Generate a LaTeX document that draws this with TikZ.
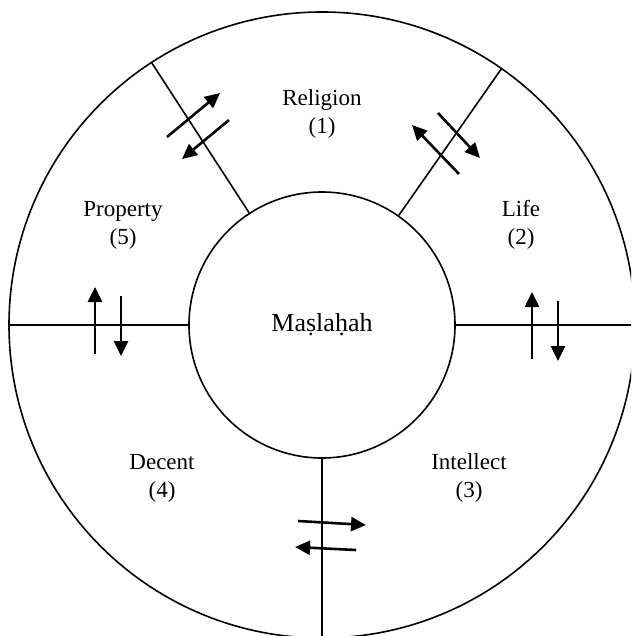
\documentclass[tikz,border=0pt]{standalone}
\usepackage{fontspec}
\setmainfont{Liberation Serif}
\usetikzlibrary{arrows.meta, positioning}
\tikzset{
  ring/.style  = {circle, draw=black, line width=1.6pt, inner sep=0pt},
  core/.style  = {circle, draw=black, line width=1.6pt, inner sep=0pt,
                  minimum size=266pt, font=\fontsize{26}{31}\selectfont},
  lbl/.style   = {align=center, font=\fontsize{23}{28}\selectfont},
  sep/.style   = {line width=1.6pt, color=black},
  flow/.style  = {-{Triangle[length=15pt, width=14pt]}, line width=2.6pt, color=black},
}
\begin{document}
\begin{tikzpicture}[x=1pt, y=-1pt]

  \useasboundingbox (0,0) rectangle (631,636);
  \clip (0,0) rectangle (631,636);

  \node[ring, minimum size=626pt] (outer) at (322,325) {};
  \node[core] (mas) at (322,325) {Maṣlaḥah};

  % spokes between the five domains
  \draw[sep] (mas.0)    -- (outer.0);
  \draw[sep] (mas.55.5) -- (outer.55.5);
  \draw[sep] (mas.123)  -- (outer.123);
  \draw[sep] (mas.180)  -- (outer.180);
  \draw[sep] (mas.270)  -- (outer.270);

  % domain labels
  \node[lbl] (rel)  at (322,114) {Religion\\(1)};
  \node[lbl] (life) at (521,225) {Life\\(2)};
  \node[lbl] (int)  at (469,478) {Intellect\\(3)};
  \node[lbl] (dec)  at (162,478) {Decent\\(4)};
  \node[lbl] (prop) at (123,225) {Property\\(5)};

  % two-way exchange across each spoke
  \draw[flow] (167,137) -- (220,93);
  \draw[flow] (229,120) -- (182,159);
  \draw[flow] (459,174) -- (412,125);
  \draw[flow] (438,113) -- (480,158);
  \draw[flow] (532,359) -- (532,292);
  \draw[flow] (558,301) -- (558,361);
  \draw[flow] (298,521) -- (366,525);
  \draw[flow] (356,550) -- (295,547);
  \draw[flow] (95,354)  -- (95,287);
  \draw[flow] (121,296) -- (121,356);

\end{tikzpicture}
\end{document}
